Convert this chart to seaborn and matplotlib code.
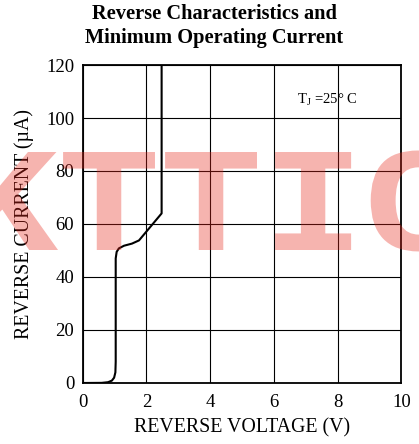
import matplotlib
matplotlib.use("Agg")
import matplotlib.pyplot as plt
import pandas as pd
import seaborn as sns
from matplotlib.font_manager import FontProperties
from matplotlib.patches import PathPatch
from matplotlib.textpath import TextPath
from matplotlib.transforms import Affine2D, IdentityTransform

# reverse voltage (V) vs reverse current (uA)
voltage = [0, 0.6, 0.8, 0.92, 0.99, 1.03, 1.04, 1.04, 1.07, 1.14, 1.3, 1.55, 1.77, 2.48, 2.48]
current = [0, 0.05, 0.3, 0.9, 2, 4, 8, 47, 49.5, 50.8, 51.8, 52.6, 53.8, 64, 120]

x_ticks = [0, 2, 4, 6, 8, 10]
y_ticks = [0, 20, 40, 60, 80, 100, 120]

TITLE = "Reverse Characteristics and\nMinimum Operating Current"
X_LABEL = "REVERSE VOLTAGE (V)"
Y_LABEL = "REVERSE CURRENT (\u00b5A)"
NOTE = "T$_\\mathregular{J}$ =25\u00b0 C"
WATERMARK = "KTTIC"


def add_watermark(fig):
    # squat slab-serif letters, sized in pixels to match the original stamp
    prop = FontProperties(family="Liberation Mono", weight="bold")
    cap = TextPath((0, 0), "T", size=1, prop=prop).get_extents().y1
    tp = TextPath((0, 0), WATERMARK, size=1, prop=prop)
    sx = 102 / 0.6
    sy = 98 / cap
    tr = Affine2D().scale(sx, sy).translate(-44, 444 - 250)
    patch = PathPatch(tr.transform_path(tp), facecolor="#e8281c", edgecolor="none",
                      alpha=0.35, transform=IdentityTransform(), zorder=10)
    fig.patches.append(patch)


def main():
    sns.set_theme(style="white")
    plt.rcParams["font.family"] = ["Liberation Serif", "DejaVu Serif"]
    plt.rcParams["mathtext.fontset"] = "custom"
    plt.rcParams["mathtext.rm"] = "Liberation Serif"

    df = pd.DataFrame({"V": voltage, "I": current})

    fig = plt.figure(figsize=(4.19, 4.44), dpi=100)
    ax = fig.add_axes([0.197, 0.1374, 0.761, 0.7162])

    sns.lineplot(data=df, x="V", y="I", sort=False, estimator=None,
                 color="black", linewidth=1.5, ax=ax)

    ax.set_xlim(0, 10)
    ax.set_ylim(0, 120)
    ax.set_xticks(x_ticks)
    ax.set_yticks(y_ticks)
    ax.tick_params(axis="x", length=0, labelsize=13.5, colors="black", pad=8)
    ax.tick_params(axis="y", length=0, labelsize=13.5, colors="black", pad=6)
    ax.grid(True, color="black", linewidth=0.8)
    for s in ax.spines.values():
        s.set_color("black")
        s.set_linewidth(1.3)

    ax.set_xlabel(X_LABEL, fontsize=14.3, color="black", labelpad=5)
    ax.set_ylabel(Y_LABEL, fontsize=14.3, color="black", labelpad=9)

    ax.text(6.72, 107, NOTE, fontsize=10.5, va="center", ha="left", color="black")

    fig.text(214 / 419, 1 - 4 / 444, TITLE, ha="center", va="top",
             fontsize=14.7, fontweight="bold", linespacing=1.25, color="black")

    add_watermark(fig)

    fig.savefig("out.png", dpi=100)
    plt.close(fig)


if __name__ == "__main__":
    main()
